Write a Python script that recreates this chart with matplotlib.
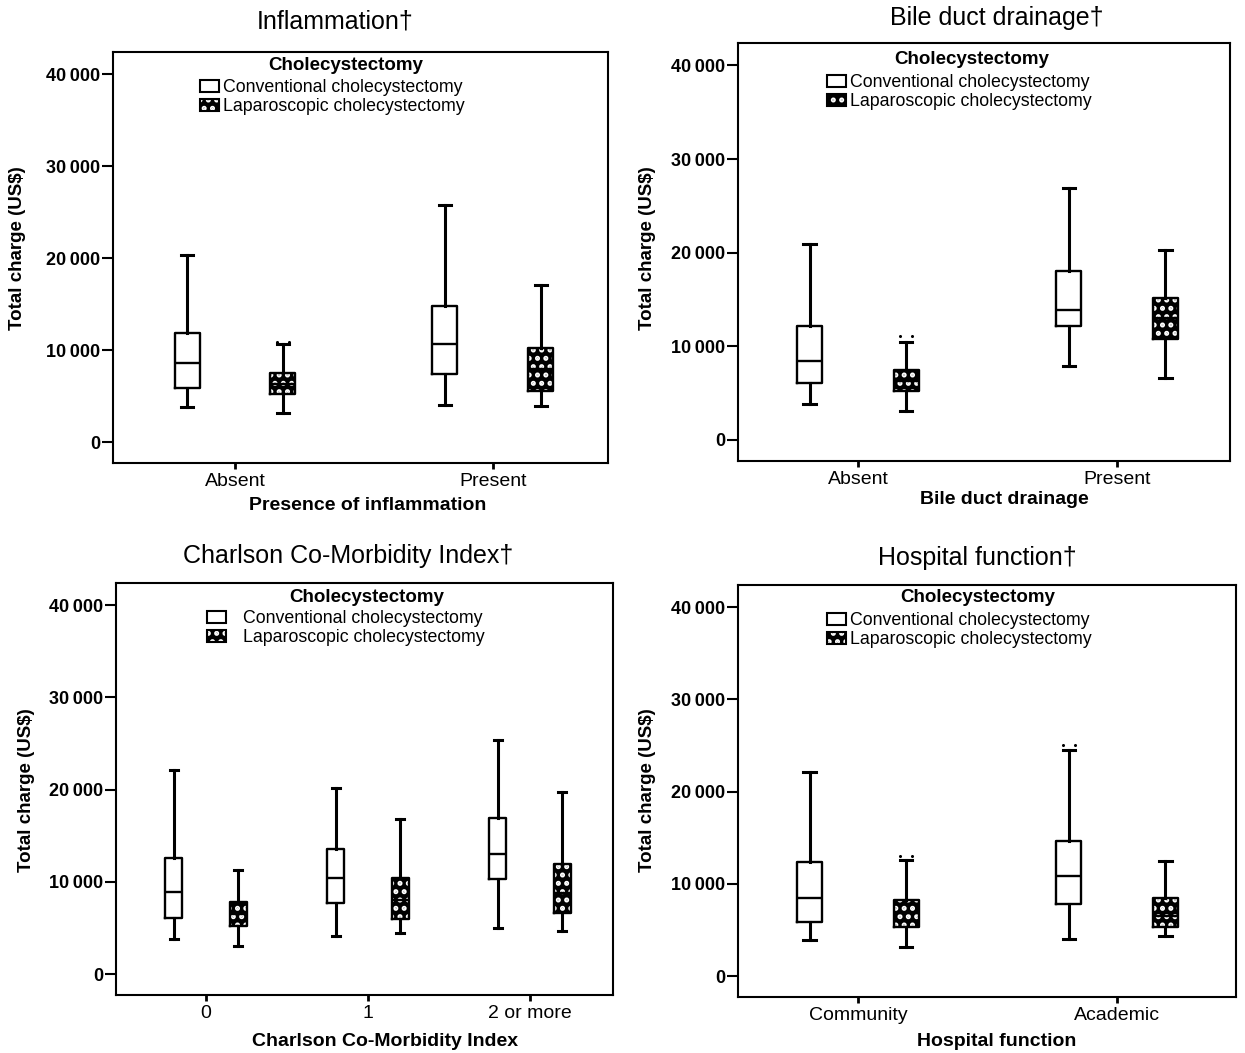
import matplotlib
matplotlib.use("Agg")
import matplotlib.pyplot as plt
from matplotlib.patches import Patch
from matplotlib.ticker import FuncFormatter

plt.rcParams["font.family"] = ["Liberation Sans", "DejaVu Sans"]
plt.rcParams["hatch.linewidth"] = 2.4

# ── Data: each box is [whisker low, Q1, median, Q3, whisker high] ──
infl_groups = ["Absent", "Present"]
infl_conv = [[3800, 5870, 8590, 11850, 20330],
             [4020, 7390, 10650, 14780, 25760]]
infl_lap = [[3150, 5200, 6300, 7500, 10650],
            [3910, 5540, 8000, 10220, 17070]]
infl_lap_out = [10870, None]
infl_conv_out = [None, None]

bile_groups = ["Absent", "Present"]
bile_conv = [[3790, 6070, 8450, 12130, 20910],
             [7910, 12130, 13870, 18090, 26870]]
bile_lap = [[3140, 5200, 6300, 7480, 10510],
            [6610, 10830, 13000, 15170, 20260]]
bile_lap_out = [11050, None]
bile_conv_out = [None, None]

cci_groups = ["0", "1", "2 or more"]
cci_conv = [[3780, 6050, 8860, 12650, 22160],
            [4110, 7680, 10380, 13620, 20220],
            [4970, 10270, 13080, 16970, 25410]]
cci_lap = [[3030, 5190, 6500, 7780, 11350],
           [4430, 5950, 8000, 10380, 16860],
           [4650, 6590, 8760, 12000, 19780]]
cci_lap_out = [None, None, None]
cci_conv_out = [None, None, None]

hosp_groups = ["Community", "Academic"]
hosp_conv = [[3880, 5930, 8520, 12400, 22110],
             [3990, 7870, 10900, 14670, 24490]]
hosp_lap = [[3130, 5290, 6800, 8310, 12620],
            [4310, 5390, 6500, 8520, 12510]]
hosp_lap_out = [13050, None]
hosp_conv_out = [None, 25030]

Y_TICKS = [0, 10000, 20000, 30000, 40000]
LEGEND_TITLE = "Cholecystectomy"
SERIES = ["Conventional cholecystectomy", "Laparoscopic cholecystectomy"]

W, H = 1245, 1053
HATCH = ".."


def px(x, y):
    return x / W, 1 - y / H


def to_stats(boxes):
    return [dict(whislo=b[0], q1=b[1], med=b[2], q3=b[3], whishi=b[4],
                 fliers=[]) for b in boxes]


def draw_panel(fig, rect, groups, conv, lap, conv_out, lap_out, offset,
               width, xlim, leg_xy, title_xy, textpad):
    left, top, right, bottom = rect
    ax = fig.add_axes([left / W, 1 - bottom / H, (right - left) / W,
                       (bottom - top) / H])
    pos = list(range(len(groups)))
    cpos = [p - offset for p in pos]
    lpos = [p + offset for p in pos]

    line = dict(color="black", linewidth=1.7)
    wline = dict(color="black", linewidth=2.2)
    # conventional: open boxes
    ax.bxp(to_stats(conv), positions=cpos, widths=width, boxprops=line,
           whiskerprops=wline, capprops=wline, medianprops=line,
           showfliers=False)
    # laparoscopic: black boxes with white dot hatch, then outlines
    ax.bxp(to_stats(lap), positions=lpos, widths=width, patch_artist=True,
           boxprops=dict(facecolor="black", edgecolor="white", hatch=HATCH,
                         linewidth=0),
           whiskerprops=dict(linewidth=0), capprops=dict(linewidth=0),
           medianprops=dict(linewidth=0), showfliers=False)
    ax.bxp(to_stats(lap), positions=lpos, widths=width, boxprops=line,
           whiskerprops=wline, capprops=wline, medianprops=line,
           showfliers=False)

    # tiny outlier marks above whiskers
    for xs, outs in ((cpos, conv_out), (lpos, lap_out)):
        for x, v in zip(xs, outs):
            if v is not None:
                ax.plot([x - width * 0.25, x + width * 0.25], [v, v], ls="none",
                        marker="o", ms=1.2, color="black")

    ax.set_xlim(*xlim)
    ax.set_ylim(-2250, 42400)
    ax.set_xticks(pos)
    ax.set_xticklabels(groups, fontsize=14)
    ax.set_yticks(Y_TICKS)
    ax.yaxis.set_major_formatter(
        FuncFormatter(lambda v, _: f"{int(v):,}".replace(",", "\u2009")))
    for lab in ax.get_yticklabels():
        lab.set_fontweight("bold")
        lab.set_fontsize(13)
    ax.tick_params(axis="y", direction="out", length=8, width=1.5, pad=1)
    ax.tick_params(axis="x", direction="out", length=4, width=2, pad=3)
    for s in ax.spines.values():
        s.set_linewidth(1.5)

    handles = [Patch(facecolor="white", edgecolor="black", linewidth=1.5),
               (Patch(facecolor="black", edgecolor="white", hatch=HATCH,
                      linewidth=0),
                Patch(facecolor="none", edgecolor="black", linewidth=1.5))]
    lx = (leg_xy[0] - left) / (right - left)
    ly = (bottom - leg_xy[1]) / (bottom - top)
    ax.legend(handles, SERIES, loc="upper left", bbox_to_anchor=(lx, ly),
              frameon=False, fontsize=12.8, borderpad=0, borderaxespad=0,
              handlelength=1.05, handleheight=0.7, handletextpad=textpad,
              labelspacing=0.12)
    tx = (title_xy[0] - left) / (right - left)
    ty = (bottom - title_xy[1]) / (bottom - top)
    ax.text(tx, ty, LEGEND_TITLE, transform=ax.transAxes, ha="center",
            va="center", fontsize=13.5, fontweight="bold")
    return ax


fig = plt.figure(figsize=(W / 100, H / 100), dpi=100)

draw_panel(fig, (113, 52, 608, 463), infl_groups, infl_conv, infl_lap,
           infl_conv_out, infl_lap_out, 0.186, 0.097, (-0.473, 1.446),
           (200, 79), (346, 65), 0.25)
draw_panel(fig, (738, 43, 1230, 461), bile_groups, bile_conv, bile_lap,
           bile_conv_out, bile_lap_out, 0.186, 0.097, (-0.463, 1.436),
           (827, 74), (972, 60), 0.25)
draw_panel(fig, (116, 583, 613, 995), cci_groups, cci_conv, cci_lap,
           cci_conv_out, cci_lap_out, 0.198, 0.105, (-0.556, 2.512),
           (207, 610), (367, 597), 1.0)
draw_panel(fig, (738, 585, 1236, 997), hosp_groups, hosp_conv, hosp_lap,
           hosp_conv_out, hosp_lap_out, 0.186, 0.097, (-0.463, 1.459),
           (827, 612), (978, 598), 0.25)

# titles
for txt, (x, y) in [("Inflammation\u2020", (335, 22)),
                    ("Bile duct drainage\u2020", (997, 18)),
                    ("Charlson Co-Morbidity Index\u2020", (348, 556)),
                    ("Hospital function\u2020", (977, 558))]:
    fig.text(*px(x, y), txt, ha="center", va="center", fontsize=18)

# y labels
for x, y in [(18, 248), (648, 248), (27, 790), (648, 790)]:
    fig.text(*px(x, y), "Total charge (US$)", ha="center", va="center",
             rotation=90, fontsize=13.5, fontweight="bold")

# x labels
for txt, (x, y) in [("Presence of inflammation", (368, 505)),
                    ("Bile duct drainage", (1004, 500)),
                    ("Charlson Co-Morbidity Index", (385, 1041)),
                    ("Hospital function", (997, 1042))]:
    fig.text(*px(x, y), txt, ha="center", va="center", fontsize=14,
             fontweight="bold")

fig.savefig("out.png", dpi=100)
